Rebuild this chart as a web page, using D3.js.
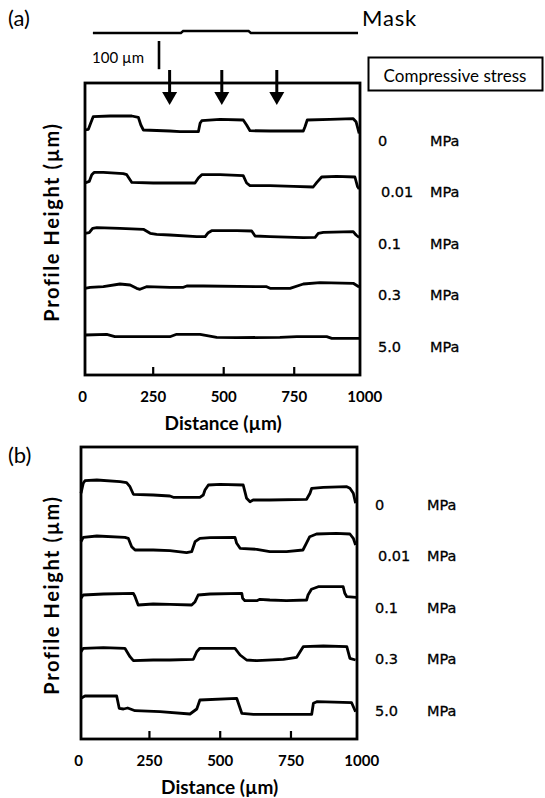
<!DOCTYPE html>
<html>
<head>
<meta charset="utf-8">
<script src="https://cdn.jsdelivr.net/npm/d3@7"></script>
<style>
body { margin: 0; background: #fff; }
svg text { fill: #000; }
</style>
</head>
<body>
<div id="chart"></div>
<script>
var stresses = ["0", "0.01", "0.1", "0.3", "5.0"];
var xTicks = [0, 250, 500, 750, 1000];

// each trace: [distance (um), height above that trace's lower level (um)]
var a0   = [[10,0.1],[22,0.17],[30,0.77],[39,1.43],[99,1.5],[176,1.5],[199,1.37],[208,0.6],[217,0.1],[311,0],[347,-0.07],[412,-0.07],[418,0.77],[424,1.03],[489,1.17],[571,1.1],[583,0.6],[595,0.03],[666,0],[784,0],[790,0.43],[798,1.1],[879,1.17],[961,1.23],[971,0.93],[982,-0.25]];
var a001 = [[10,0],[25,0.16],[34,0.83],[42,1.06],[75,1.06],[146,0.93],[158,0.83],[176,0.06],[252,0],[400,0],[412,0.5],[424,0.83],[489,0.83],[571,0.73],[583,0],[595,-0.27],[666,-0.27],[749,-0.34],[819,-0.4],[832,0.06],[849,0.6],[902,0.66],[967,0.6],[976,-0.34],[982,-0.6]];
var a01  = [[10,0.27],[25,0.33],[37,0.77],[52,0.83],[134,0.77],[217,0.67],[241,0.27],[264,0.17],[311,0.1],[406,-0.07],[436,-0.07],[447,0.33],[459,0.53],[548,0.53],[601,0.5],[613,0],[666,-0.07],[784,-0.17],[826,-0.13],[837,0.27],[855,0.37],[961,0.43],[971,0.1],[982,-0.15]];
var a03  = [[10,-0.03],[28,0.07],[75,0.13],[134,0.4],[170,0.3],[193,-0.03],[205,-0.13],[228,0.13],[311,0.07],[359,0.07],[371,0.2],[429,0.2],[654,0.13],[666,-0.03],[737,-0.03],[784,0.4],[843,0.53],[961,0.47],[982,0.1]];
var a50  = [[10,0.2],[87,0.27],[116,0.03],[193,0.03],[311,0.03],[335,0.27],[418,0.27],[477,-0.03],[548,-0.07],[701,-0.03],[761,0.03],[867,0.03],[885,-0.13],[982,-0.13]];
var profilesA = [a0, a001, a01, a03, a50];
var offsetsA = [24.4, 19.2, 13.9, 8.7, 3.8];

var b0   = [[10,0.17],[18,1.17],[24,1.43],[66,1.5],[148,1.33],[171,1.23],[183,0.83],[195,0.07],[265,0],[324,-0.1],[336,-0.23],[430,-0.23],[442,0],[448,0.5],[460,1],[501,1.07],[583,1],[589,0.33],[595,-0.33],[607,-0.67],[618,-0.5],[677,-0.5],[807,-0.43],[819,0.17],[825,0.67],[866,0.77],[949,0.83],[960,0.67],[972,0.17],[980,-0.83]];
var b001 = [[10,0.83],[18,1.27],[66,1.4],[165,1.27],[177,1.17],[189,0.33],[201,0],[265,0],[324,-0.07],[383,-0.27],[401,-0.17],[413,0.83],[430,1.17],[466,1.23],[554,1.27],[560,0.67],[572,0.17],[631,0.07],[677,-0.17],[736,-0.17],[794,0],[806,0.67],[818,1.33],[842,1.6],[912,1.67],[960,1.6],[972,1.17],[980,0.5]];
var b01  = [[10,0.67],[18,1],[89,1.1],[195,1.17],[201,0.83],[212,0],[265,0.1],[324,0.07],[401,0],[413,0.33],[424,1],[466,1.1],[578,1.17],[581,0.67],[589,0.43],[631,0.43],[642,0.57],[677,0.5],[736,0.43],[807,0.5],[812,1],[824,1.57],[848,1.83],[936,1.83],[942,1.17],[949,0.83],[982,0.77]];
var b03  = [[10,0.83],[18,1.17],[89,1.23],[165,1.17],[183,0.33],[195,-0.07],[265,0],[324,0],[407,0.07],[419,0.83],[430,1.17],[501,1.17],[554,1.17],[572,0.5],[595,0],[631,-0.07],[725,0.07],[772,0.27],[784,0.83],[795,1.33],[866,1.4],[949,1.33],[960,0.17],[980,0]];
var b50  = [[10,1.57],[24,1.8],[136,1.8],[145,0.57],[160,0.5],[175,0.6],[201,0.33],[289,0.23],[395,0],[419,0.5],[430,1.4],[560,1.57],[578,0.07],[619,-0.03],[825,-0.03],[831,1.07],[843,1.23],[966,1.13],[980,0.23]];
var profilesB = [b0, b001, b01, b03, b50];
var offsetsB = [24.4, 18.9, 13.4, 7.9, 2.5];

// mask relief above panel (a), and where the stress arrows point
var mask = [[38,0],[350,0],[358,0.2],[590,0.2],[598,0],[978,0]];
var arrowsAt = [310, 495, 690];

var W = 545, H = 798;
var svg = d3.select("#chart").append("svg")
    .attr("width", W)
    .attr("height", H);

var panels = [
    { name: "(a)", nameY: 18, left: 85, right: 360, top: 83, profiles: profilesA, offsets: offsetsA, titleShift: -7 },
    { name: "(b)", nameY: 455, left: 81, right: 357, top: 447, profiles: profilesB, offsets: offsetsB, titleShift: 2 }
];
var panelH = 292;

var drawPanel = function(p) {
    var bottom = p.top + panelH;
    var x = d3.scaleLinear().domain([10, 985]).range([p.left, p.right]);
    var y = d3.scaleLinear().domain([0, 29.2]).range([bottom, p.top]);
    p.x = x;

    var g = svg.append("g");

    g.append("text")
        .attr("x", 8)
        .attr("y", p.nameY)
        .attr("dy", "0.35em")
        .style("font-family", "Lato")
        .style("font-size", "22px")
        .text(p.name);

    // traces
    p.profiles.forEach(function(prof, i) {
        var line = d3.line()
            .x(function(d) { return x(d[0]); })
            .y(function(d) { return y(d[1] + p.offsets[i]); });
        g.append("path")
            .attr("d", line(prof))
            .attr("fill", "none")
            .attr("stroke", "#000")
            .attr("stroke-width", 2.8)
            .attr("stroke-linejoin", "round");
    });

    // axis: inward ticks, labels under
    var axis = d3.axisBottom(x)
        .tickValues(xTicks)
        .tickSize(-8)
        .tickPadding(16)
        .tickFormat(d3.format("d"));
    var ax = g.append("g")
        .attr("transform", "translate(0," + bottom + ")")
        .call(axis);
    ax.select(".domain").remove();
    ax.selectAll(".tick line")
        .attr("stroke", "#000")
        .attr("stroke-width", 2.2)
        .attr("display", function(d) { return d === 0 || d === 1000 ? "none" : null; });
    ax.selectAll(".tick text")
        .style("font-family", "Lato")
        .style("font-weight", "bold")
        .style("font-size", "15px");

    g.append("rect")
        .attr("x", p.left)
        .attr("y", p.top)
        .attr("width", p.right - p.left)
        .attr("height", panelH)
        .attr("fill", "none")
        .attr("stroke", "#000")
        .attr("stroke-width", 2.8);

    g.append("text")
        .attr("x", x(500))
        .attr("y", bottom + 47)
        .attr("text-anchor", "middle")
        .attr("dominant-baseline", "central")
        .style("font-family", "Lato")
        .style("font-weight", "bold")
        .style("font-size", "19px")
        .text("Distance (\u00b5m)");

    g.append("text")
        .attr("transform", "translate(51," + (p.top + panelH / 2 + p.titleShift) + ") rotate(-90)")
        .attr("text-anchor", "middle")
        .attr("dominant-baseline", "central")
        .style("font-family", "Lato")
        .style("font-weight", "bold")
        .style("font-size", "20px")
        .style("letter-spacing", "1.6px")
        .text("Profile Height (\u00b5m)");

    // stress labels
    var ly = d3.scalePoint().domain(stresses).range([p.top + 57.5, p.top + 263.5]);
    var lab = g.selectAll(".stress")
        .data(stresses)
        .enter().append("g")
        .attr("transform", function(d) { return "translate(0," + ly(d) + ")"; });
    lab.append("text")
        .attr("x", function(d) { return p.right + (d === "0.01" ? 21 : 18); })
        .attr("dominant-baseline", "central")
        .style("font-family", "DejaVu Sans")
        .style("font-size", "14.5px")
        .style("stroke", "#000")
        .style("stroke-width", 0.3)
        .text(function(d) { return d; });
    lab.append("text")
        .attr("x", p.right + 70)
        .attr("dominant-baseline", "central")
        .style("font-family", "DejaVu Sans")
        .style("font-size", "14.5px")
        .style("stroke", "#000")
        .style("stroke-width", 0.3)
        .text("MPa");
};

panels.forEach(drawPanel);

// mask and annotations over panel (a)
var xa = panels[0].x;
var maskY = d3.scaleLinear().domain([0, 1]).range([33, 23]);
svg.append("path")
    .attr("d", d3.line().x(function(d) { return xa(d[0]); }).y(function(d) { return maskY(d[1]); })(mask))
    .attr("fill", "none")
    .attr("stroke", "#000")
    .attr("stroke-width", 2.4);

svg.append("text")
    .attr("x", 362)
    .attr("y", 18)
    .attr("dy", "0.35em")
    .style("font-family", "Lato")
    .style("font-size", "22px")
    .style("letter-spacing", "0.8px")
    .text("Mask");

// 100 um scale bar
var barLen = xa(110) - xa(10);
svg.append("line")
    .attr("x1", 159).attr("x2", 159)
    .attr("y1", 41).attr("y2", 41 + barLen)
    .attr("stroke", "#000")
    .attr("stroke-width", 2.6);
svg.append("text")
    .attr("x", 92)
    .attr("y", 57)
    .attr("dominant-baseline", "central")
    .style("font-family", "Lato")
    .style("font-size", "15px")
    .text("100 \u00b5m");

// compressive stress box
svg.append("rect")
    .attr("x", 368.5).attr("y", 57.5)
    .attr("width", 174).attr("height", 33)
    .attr("fill", "#fff")
    .attr("stroke", "#000")
    .attr("stroke-width", 2);
svg.append("text")
    .attr("x", 455)
    .attr("y", 75)
    .attr("text-anchor", "middle")
    .attr("dominant-baseline", "central")
    .style("font-family", "Lato")
    .style("font-size", "17px")
    .text("Compressive stress");

// arrows
var arr = svg.selectAll(".arrow")
    .data(arrowsAt)
    .enter().append("g")
    .attr("transform", function(d) { return "translate(" + xa(d) + ",0)"; });
arr.append("line")
    .attr("x1", 0).attr("x2", 0)
    .attr("y1", 70).attr("y2", 95)
    .attr("stroke", "#000")
    .attr("stroke-width", 3);
arr.append("path")
    .attr("d", "M-7.5,92L7.5,92L0,105Z")
    .attr("fill", "#000");
</script>
</body>
</html>
